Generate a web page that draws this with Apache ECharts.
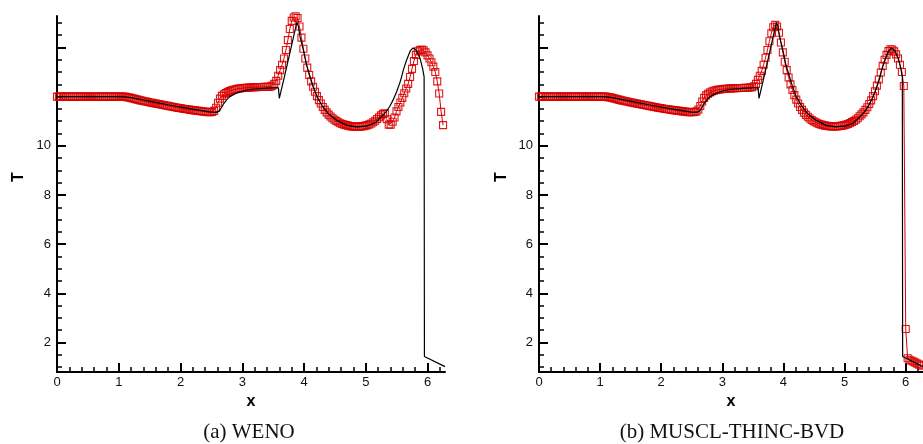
<!DOCTYPE html>
<html>
<head>
<meta charset="utf-8">
<script src="https://cdn.jsdelivr.net/npm/echarts@6/dist/echarts.min.js"></script>
<style>
  html, body { margin: 0; padding: 0; background: #fff; }
  #chart { width: 923px; height: 444px; }
</style>
</head>
<body>
<div id="chart"></div>
<script>
// Mesh: 200 uniform cells on [0, 2*pi]
const cellCount = 200;
const domainEnd = 6.2832;

// Axis ticks
const xMajorTicks = [0, 1, 2, 3, 4, 5, 6];
const yMajorTicks = [2, 4, 6, 8, 10, 14];
const yTickLabels = [2, 4, 6, 8, 10];

// Reference (exact) temperature profile
const exactX = [0, 1.0, 1.1, 1.2, 1.4, 1.6, 1.8, 2.0, 2.2, 2.4,
  2.5, 2.58, 2.63, 2.67, 2.7, 2.75, 2.8, 2.9, 3.0, 3.1,
  3.2, 3.3, 3.4, 3.5, 3.585, 3.6, 3.7, 3.8, 3.85, 3.885,
  3.91, 3.935, 3.99, 4.04, 4.10, 4.15, 4.21, 4.29, 4.39, 4.53,
  4.69, 4.85, 5.01, 5.15, 5.28, 5.34, 5.39, 5.45, 5.50, 5.55,
  5.58, 5.61, 5.66, 5.72, 5.765, 5.82, 5.88, 5.92, 5.945, 5.95,
  6.2832];
const exactT = [12.0, 12.0, 11.99, 11.96, 11.87, 11.77, 11.67, 11.58, 11.49, 11.41,
  11.37, 11.36, 11.42, 11.58, 11.72, 11.88, 12.0, 12.14, 12.23, 12.28,
  12.31, 12.33, 12.35, 12.36, 12.36, 11.93, 13.0, 14.1, 14.65, 15.02,
  14.85, 14.45, 13.89, 13.3, 12.8, 12.4, 12.0, 11.65, 11.32, 11.04,
  10.84, 10.77, 10.80, 10.93, 11.25, 11.42, 11.61, 11.9, 12.2, 12.55,
  12.8, 13.1, 13.48, 13.86, 13.98, 13.89, 13.55, 13.15, 12.8, 1.43,
  1.02];

// WENO cell values
const wenoT = [
  12.00, 12.00, 12.00, 12.00, 12.00, 12.00, 12.00, 12.00, 12.00, 12.00,
  12.00, 12.00, 12.00, 12.00, 12.00, 12.00, 12.00, 12.00, 12.00, 12.00,
  12.00, 12.00, 12.00, 12.00, 12.00, 12.00, 12.00, 12.00, 12.00, 12.00,
  12.00, 12.00, 12.00, 12.00, 12.00, 12.00, 11.98, 11.97, 11.95, 11.93,
  11.91, 11.89, 11.87, 11.85, 11.83, 11.81, 11.80, 11.78, 11.76, 11.75,
  11.73, 11.72, 11.70, 11.69, 11.67, 11.66, 11.64, 11.63, 11.61, 11.60,
  11.58, 11.57, 11.55, 11.54, 11.53, 11.51, 11.50, 11.49, 11.48, 11.46,
  11.45, 11.44, 11.43, 11.42, 11.41, 11.40, 11.39, 11.38, 11.37, 11.37,
  11.38, 11.42, 11.55, 11.75, 11.92, 12.03, 12.10, 12.15, 12.19, 12.23,
  12.26, 12.28, 12.30, 12.32, 12.33, 12.34, 12.35, 12.36, 12.36, 12.37,
  12.37, 12.38, 12.38, 12.38, 12.39, 12.39, 12.39, 12.40, 12.40, 12.40,
  12.40, 12.45, 12.52, 12.64, 12.85, 13.08, 13.30, 13.55, 13.90, 14.30,
  14.75, 15.08, 15.22, 15.27, 15.20, 14.85, 14.40, 13.95, 13.55, 13.18,
  12.88, 12.62, 12.40, 12.20, 12.02, 11.86, 11.72, 11.58, 11.46, 11.36,
  11.27, 11.19, 11.12, 11.06, 11.01, 10.96, 10.92, 10.89, 10.86, 10.84,
  10.82, 10.80, 10.79, 10.78, 10.78, 10.78, 10.78, 10.79, 10.80, 10.82,
  10.84, 10.87, 10.91, 10.96, 11.02, 11.09, 11.16, 11.24, 11.30, 11.32,
  11.08, 10.86, 10.86, 10.98, 11.15, 11.40, 11.58, 11.76, 11.95, 12.14,
  12.33, 12.52, 12.80, 13.13, 13.45, 13.70, 13.84, 13.90, 13.92, 13.88,
  13.80, 13.68, 13.55, 13.40, 13.22, 13.00, 12.62, 12.13, 11.38, 10.84
];

// MUSCL-THINC-BVD cell values
const bvdT = [
  12.00, 12.00, 12.00, 12.00, 12.00, 12.00, 12.00, 12.00, 12.00, 12.00,
  12.00, 12.00, 12.00, 12.00, 12.00, 12.00, 12.00, 12.00, 12.00, 12.00,
  12.00, 12.00, 12.00, 12.00, 12.00, 12.00, 12.00, 12.00, 12.00, 12.00,
  12.00, 12.00, 12.00, 12.00, 12.00, 12.00, 11.98, 11.97, 11.95, 11.93,
  11.91, 11.89, 11.87, 11.85, 11.83, 11.81, 11.80, 11.78, 11.76, 11.75,
  11.73, 11.72, 11.70, 11.69, 11.67, 11.66, 11.64, 11.63, 11.61, 11.60,
  11.58, 11.57, 11.55, 11.54, 11.53, 11.51, 11.50, 11.49, 11.48, 11.46,
  11.45, 11.44, 11.43, 11.42, 11.41, 11.40, 11.39, 11.38, 11.37, 11.37,
  11.37, 11.38, 11.40, 11.48, 11.62, 11.80, 11.95, 12.05, 12.12, 12.17,
  12.21, 12.24, 12.26, 12.28, 12.29, 12.30, 12.31, 12.32, 12.32, 12.33,
  12.33, 12.34, 12.34, 12.34, 12.35, 12.35, 12.35, 12.36, 12.36, 12.36,
  12.37, 12.38, 12.42, 12.52, 12.68, 12.85, 13.05, 13.30, 13.58, 13.90,
  14.25, 14.58, 14.82, 14.92, 14.85, 14.60, 14.20, 13.80, 13.42, 13.08,
  12.78, 12.50, 12.27, 12.06, 11.88, 11.72, 11.58, 11.46, 11.35, 11.26,
  11.18, 11.11, 11.05, 11.00, 10.96, 10.92, 10.89, 10.86, 10.84, 10.82,
  10.81, 10.80, 10.79, 10.79, 10.79, 10.79, 10.80, 10.81, 10.82, 10.84,
  10.86, 10.89, 10.93, 10.97, 11.01, 11.06, 11.12, 11.20, 11.28, 11.36,
  11.46, 11.57, 11.70, 11.85, 12.02, 12.22, 12.45, 12.70, 12.98, 13.25,
  13.50, 13.70, 13.85, 13.93, 13.92, 13.84, 13.72, 13.55, 13.30, 13.00,
  12.43, 2.55, 1.36, 1.30, 1.26, 1.22, 1.18, 1.14, 1.10, 1.06
];

const panelCaptions = ['(a) WENO', '(b) MUSCL-THINC-BVD'];

// ---- build ----
const cellX = [];
for (let i = 0; i < cellCount; i++) cellX.push(i * domainEnd / cellCount);

const xMinorTicks = [];
for (let k = 1; k <= 31; k++) if (k % 5 !== 0) xMinorTicks.push(+(k * 0.2).toFixed(1));
const yMinorTicks = [];
for (let k = 2; k <= 30; k++) yMinorTicks.push(k * 0.5);

const pairs = (xs, ys) => xs.map((x, i) => [x, ys[i]]);
const exactData = pairs(exactX, exactT);

const sans = '"Liberation Sans", Arial, Helvetica, sans-serif';
const serif = '"Liberation Serif", "Times New Roman", serif';
const yMin = 0.8, yMax = 15.28;

const grids = [
  { left: 57, top: 16, width: 388, height: 356 },
  { left: 539, top: 16, width: 389, height: 356 }
];

const xAxes = [], yAxes = [], series = [];
grids.forEach((g, gi) => {
  xAxes.push({
    type: 'value', gridIndex: gi, min: 0, max: domainEnd, position: 'bottom',
    axisLine: { onZero: false, lineStyle: { color: '#000', width: 2 } },
    axisTick: { inside: true, length: 9, customValues: xMajorTicks, lineStyle: { color: '#000', width: 2 } },
    axisLabel: { customValues: xMajorTicks, color: '#111', fontSize: 13, fontFamily: sans, margin: 4 },
    splitLine: { show: false },
    name: 'x', nameLocation: 'middle', nameGap: 17,
    nameTextStyle: { color: '#000', fontSize: 16, fontWeight: 'bold', fontFamily: sans }
  });
  xAxes.push({
    type: 'value', gridIndex: gi, min: 0, max: domainEnd, position: 'bottom',
    axisLine: { show: false },
    axisTick: { inside: true, length: 5, customValues: xMinorTicks, lineStyle: { color: '#000', width: 1.5 } },
    axisLabel: { show: false },
    splitLine: { show: false }
  });
  yAxes.push({
    type: 'value', gridIndex: gi, min: yMin, max: yMax, position: 'left',
    axisLine: { onZero: false, lineStyle: { color: '#000', width: 2 } },
    axisTick: { inside: true, length: 9, customValues: yMajorTicks, lineStyle: { color: '#000', width: 2 } },
    axisLabel: { customValues: yTickLabels, color: '#111', fontSize: 13, fontFamily: sans, margin: 6 },
    splitLine: { show: false }
  });
  yAxes.push({
    type: 'value', gridIndex: gi, min: yMin, max: yMax, position: 'left',
    axisLine: { show: false },
    axisTick: { inside: true, length: 5, customValues: yMinorTicks, lineStyle: { color: '#000', width: 1.5 } },
    axisLabel: { show: false },
    splitLine: { show: false }
  });
});

const red = '#d80000';
[wenoT, bvdT].forEach((vals, gi) => {
  series.push({
    type: 'line', xAxisIndex: gi * 2, yAxisIndex: gi * 2,
    data: pairs(cellX, vals),
    symbol: 'rect', symbolSize: 7, showAllSymbol: true,
    itemStyle: { color: 'rgba(0,0,0,0)', borderColor: red, borderWidth: 1.1, opacity: 0.9 },
    lineStyle: { color: red, width: 1 },
    z: 2
  });
  series.push({
    type: 'line', xAxisIndex: gi * 2, yAxisIndex: gi * 2,
    data: exactData, showSymbol: false,
    lineStyle: { color: '#000', width: 1.2 },
    z: 3
  });
});

const graphic = [
  { type: 'text', x: 19, y: 177, rotation: Math.PI / 2,
    style: { text: 'T', font: 'bold 16px ' + sans, fill: '#000', align: 'center', verticalAlign: 'middle' } },
  { type: 'text', x: 502, y: 177, rotation: Math.PI / 2,
    style: { text: 'T', font: 'bold 16px ' + sans, fill: '#000', align: 'center', verticalAlign: 'middle' } },
  { type: 'text', x: 249, y: 432,
    style: { text: panelCaptions[0], font: '21px ' + serif, fill: '#111', align: 'center', verticalAlign: 'middle' } },
  { type: 'text', x: 732, y: 432,
    style: { text: panelCaptions[1], font: '21px ' + serif, fill: '#111', align: 'center', verticalAlign: 'middle' } }
];

const chart = echarts.init(document.getElementById('chart'), null, { renderer: 'canvas' });
chart.setOption({
  animation: false,
  backgroundColor: '#fff',
  grid: grids,
  xAxis: xAxes,
  yAxis: yAxes,
  series: series,
  graphic: graphic
});
</script>
</body>
</html>
